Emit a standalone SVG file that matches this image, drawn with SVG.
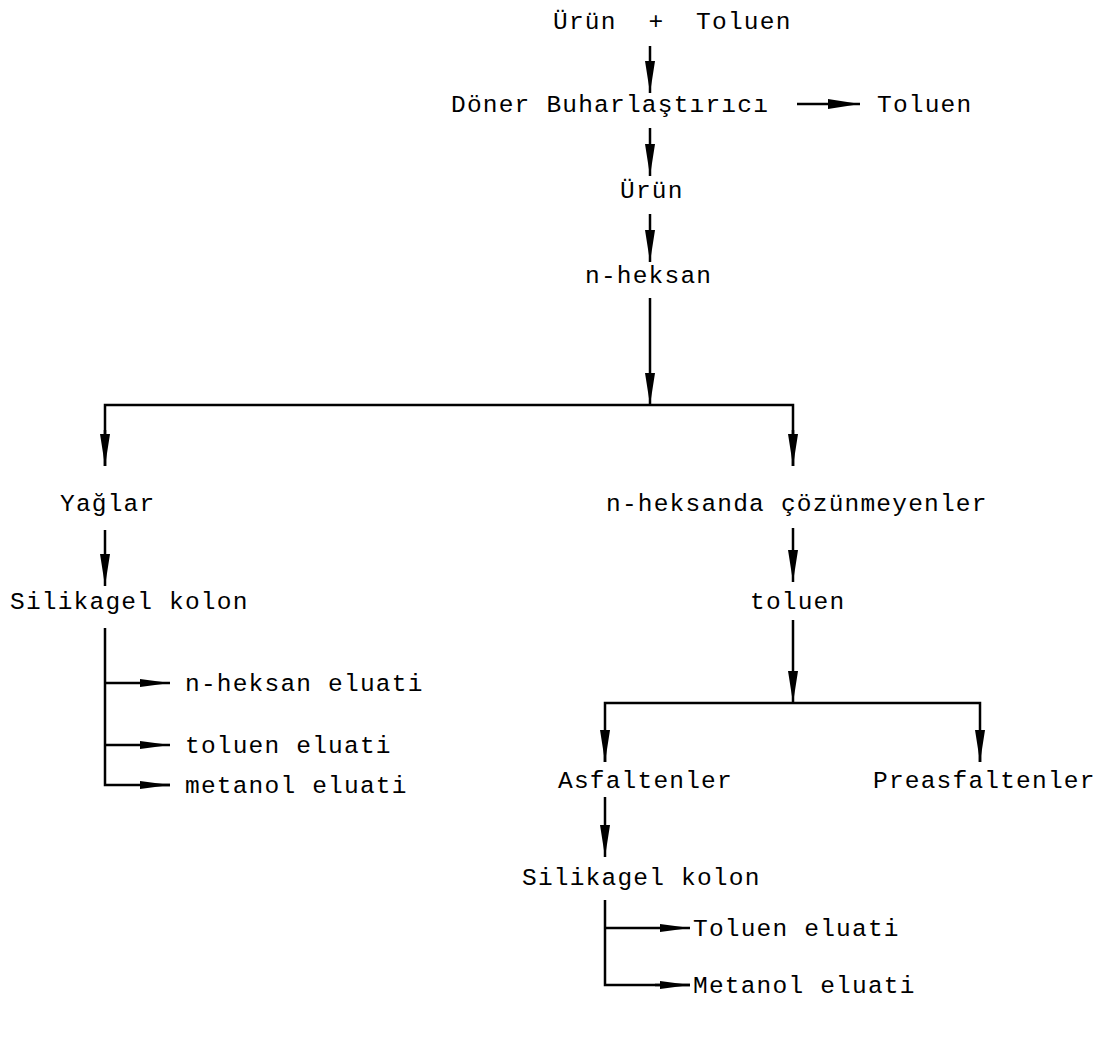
<svg xmlns="http://www.w3.org/2000/svg" width="1103" height="1040" viewBox="0 0 1103 1040">
<defs>
<marker id="ah" viewBox="0 0 32 10" refX="32" refY="5" markerWidth="32" markerHeight="10" markerUnits="userSpaceOnUse" orient="auto">
<path d="M0,0 L32,5 L0,10 z" fill="#000"/>
</marker>
<marker id="ahs" viewBox="0 0 30 8" refX="30" refY="4" markerWidth="30" markerHeight="8" markerUnits="userSpaceOnUse" orient="auto">
<path d="M0,0 L30,4 L0,8 z" fill="#000"/>
</marker>
</defs>
<style>
text{font-family:"Liberation Mono","Courier New",monospace;font-size:24.5px;letter-spacing:1.2px;fill:#000}
.c line,.c path{stroke:#000;stroke-width:2.5;fill:none}
.a{marker-end:url(#ah)}
.s{marker-end:url(#ahs)}
</style>
<rect width="1103" height="1040" fill="#fff"/>
<g class="c" id="connectors">
<line class="a" x1="650" y1="46" x2="650" y2="93"/>
<line class="a" x1="797" y1="104" x2="860" y2="104"/>
<line class="a" x1="650" y1="128" x2="650" y2="176"/>
<line class="a" x1="650" y1="214" x2="650" y2="262"/>
<line class="a" x1="650" y1="298" x2="650" y2="405"/>
<path d="M105,466 L105,405 L793,405 L793,466"/>
<line class="a" x1="105" y1="430" x2="105" y2="466"/>
<line class="a" x1="793" y1="430" x2="793" y2="466"/>
<line class="a" x1="105" y1="530" x2="105" y2="586"/>
<path d="M105,628 L105,785 L170,785"/>
<line class="s" x1="105" y1="683" x2="170" y2="683"/>
<line class="s" x1="105" y1="745" x2="170" y2="745"/>
<line class="s" x1="140" y1="785" x2="170" y2="785"/>
<line class="a" x1="793" y1="528" x2="793" y2="582"/>
<line class="a" x1="793" y1="620" x2="793" y2="703"/>
<path d="M605,762 L605,703 L980,703 L980,762"/>
<line class="a" x1="605" y1="730" x2="605" y2="762"/>
<line class="a" x1="980" y1="730" x2="980" y2="762"/>
<line class="a" x1="605" y1="797" x2="605" y2="857"/>
<path d="M605,900 L605,985 L690,985"/>
<line class="s" x1="605" y1="928" x2="690" y2="928"/>
<line class="s" x1="655" y1="985" x2="690" y2="985"/>
</g>
<g id="n1"><text x="553" y="29" xml:space="preserve">Ürün  +  Toluen</text></g>
<g id="n2"><text x="451" y="112">Döner Buharlaştırıcı</text></g>
<g id="n3"><text x="877" y="112">Toluen</text></g>
<g id="n4"><text x="620" y="198">Ürün</text></g>
<g id="n5"><text x="585" y="283">n-heksan</text></g>
<g id="n6"><text x="60" y="511">Yağlar</text></g>
<g id="n7"><text x="10" y="609">Silikagel kolon</text></g>
<g id="n8"><text x="185" y="691">n-heksan eluati</text></g>
<g id="n9"><text x="185" y="753">toluen eluati</text></g>
<g id="n10"><text x="185" y="793">metanol eluati</text></g>
<g id="n11"><text x="606" y="511">n-heksanda çözünmeyenler</text></g>
<g id="n12"><text x="750" y="609">toluen</text></g>
<g id="n13"><text x="558" y="788">Asfaltenler</text></g>
<g id="n14"><text x="873" y="788">Preasfaltenler</text></g>
<g id="n15"><text x="522" y="885">Silikagel kolon</text></g>
<g id="n16"><text x="693" y="936">Toluen eluati</text></g>
<g id="n17"><text x="693" y="993">Metanol eluati</text></g>
</svg>
